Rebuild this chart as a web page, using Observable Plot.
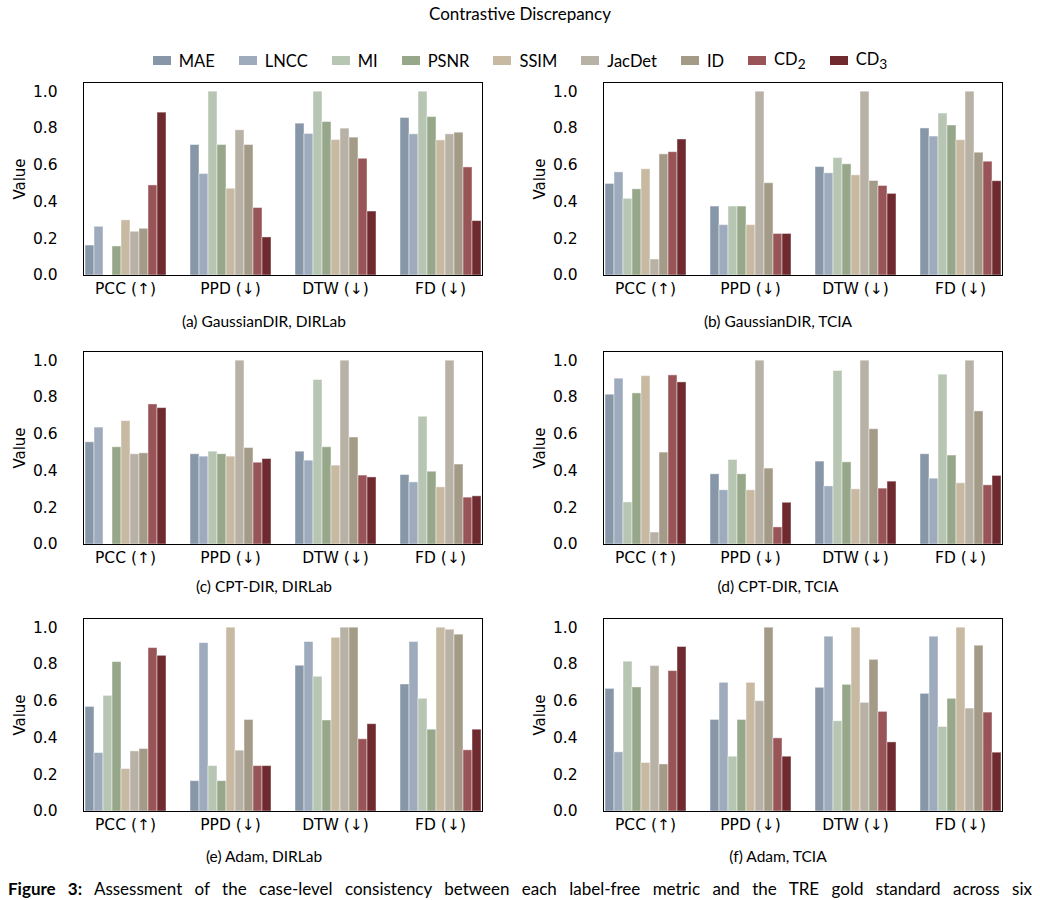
<!DOCTYPE html>
<html>
<head>
<meta charset="utf-8">
<script src="https://cdn.jsdelivr.net/npm/d3@7"></script>
<script src="https://cdn.jsdelivr.net/npm/@observablehq/plot@0.6"></script>
<style>
  html, body { margin: 0; padding: 0; background: #fff; }
  #page { position: relative; width: 1040px; height: 900px; overflow: hidden; background: #fff; font-family: Lato, "Open Sans", sans-serif; color: #000; }
  .abs { position: absolute; }
  #title { left: 0; width: 1040px; top: 3px; text-align: center; font-size: 17px; }
  #legend { left: 0; width: 1040px; top: 49px; display: flex; justify-content: center; align-items: center; font-size: 16.5px; }
  .item { display: flex; align-items: center; margin: 0 12px; }
  .sw { width: 18px; height: 9px; margin-right: 8px; }
  .sub { font-size: 15.5px; text-align: center; width: 400px; }
  .ylab { font-family: "DejaVu Sans", sans-serif; font-size: 15px; transform: translate(-50%, -50%) rotate(-90deg); white-space: nowrap; }
  #caption { left: 8px; width: 1024px; top: 879px; font-size: 17px; line-height: 20px; text-align: justify; text-align-last: justify; }
</style>
</head>
<body>
<div id="page"></div>
<script>
// ---------- data ----------
const methods = ["MAE", "LNCC", "MI", "PSNR", "SSIM", "JacDet", "ID", "CD2", "CD3"];
const methodLabels = ["MAE", "LNCC", "MI", "PSNR", "SSIM", "JacDet", "ID", "CD<sub>2</sub>", "CD<sub>3</sub>"];
const colors = ["#8797a8", "#9eabbd", "#b7c6b3", "#97a78a", "#c8b9a3", "#b8b1a5", "#a39b88", "#995457", "#6e2a2e"];
const categories = ["PCC (↑)", "PPD (↓)", "DTW (↓)", "FD (↓)"];
const yTicks = [0, 0.2, 0.4, 0.6, 0.8, 1.0];

// (a) GaussianDIR, DIRLab
const aPCC = [0.163, 0.265, 0.0, 0.158, 0.300, 0.238, 0.254, 0.490, 0.886];
const aPPD = [0.710, 0.552, 1.000, 0.710, 0.472, 0.790, 0.710, 0.367, 0.207];
const aDTW = [0.826, 0.770, 1.000, 0.835, 0.737, 0.799, 0.750, 0.635, 0.348];
const aFD  = [0.857, 0.768, 1.000, 0.862, 0.735, 0.768, 0.777, 0.588, 0.296];
// (b) GaussianDIR, TCIA
const bPCC = [0.498, 0.561, 0.417, 0.469, 0.578, 0.087, 0.659, 0.671, 0.740];
const bPPD = [0.375, 0.274, 0.375, 0.375, 0.274, 1.000, 0.502, 0.226, 0.226];
const bDTW = [0.590, 0.556, 0.639, 0.605, 0.545, 1.000, 0.514, 0.487, 0.444];
const bFD  = [0.800, 0.756, 0.881, 0.816, 0.736, 1.000, 0.668, 0.619, 0.513];
// (c) CPT-DIR, DIRLab
const cPCC = [0.556, 0.636, 0.0, 0.529, 0.671, 0.491, 0.496, 0.762, 0.742];
const cPPD = [0.491, 0.478, 0.505, 0.491, 0.478, 1.000, 0.525, 0.445, 0.465];
const cDTW = [0.505, 0.456, 0.895, 0.529, 0.429, 1.000, 0.582, 0.375, 0.365];
const cFD  = [0.378, 0.338, 0.695, 0.396, 0.311, 1.000, 0.435, 0.255, 0.262];
// (d) CPT-DIR, TCIA
const dPCC = [0.815, 0.902, 0.229, 0.822, 0.916, 0.065, 0.500, 0.920, 0.882];
const dPPD = [0.382, 0.295, 0.460, 0.382, 0.295, 1.000, 0.413, 0.093, 0.227];
const dDTW = [0.451, 0.316, 0.944, 0.447, 0.300, 1.000, 0.627, 0.304, 0.342];
const dFD  = [0.491, 0.358, 0.924, 0.484, 0.333, 1.000, 0.724, 0.322, 0.373];
// (e) Adam, DIRLab
const ePCC = [0.569, 0.318, 0.629, 0.813, 0.231, 0.327, 0.340, 0.889, 0.847];
const ePPD = [0.165, 0.916, 0.247, 0.165, 1.000, 0.331, 0.498, 0.247, 0.247];
const eDTW = [0.793, 0.922, 0.733, 0.495, 0.945, 1.000, 1.000, 0.393, 0.475];
const eFD  = [0.691, 0.922, 0.613, 0.445, 1.000, 0.989, 0.962, 0.333, 0.445];
// (f) Adam, TCIA
const fPCC = [0.667, 0.322, 0.815, 0.675, 0.264, 0.791, 0.256, 0.764, 0.895];
const fPPD = [0.498, 0.700, 0.298, 0.498, 0.700, 0.600, 1.000, 0.398, 0.298];
const fDTW = [0.673, 0.951, 0.491, 0.689, 1.000, 0.591, 0.825, 0.542, 0.376];
const fFD  = [0.640, 0.951, 0.460, 0.613, 1.000, 0.560, 0.902, 0.538, 0.320];

const panels = [
  {caption: "(a) GaussianDIR, DIRLab", values: [aPCC, aPPD, aDTW, aFD], col: 0, row: 0},
  {caption: "(b) GaussianDIR, TCIA",   values: [bPCC, bPPD, bDTW, bFD], col: 1, row: 0},
  {caption: "(c) CPT-DIR, DIRLab",     values: [cPCC, cPPD, cDTW, cFD], col: 0, row: 1},
  {caption: "(d) CPT-DIR, TCIA",       values: [dPCC, dPPD, dDTW, dFD], col: 1, row: 1},
  {caption: "(e) Adam, DIRLab",        values: [ePCC, ePPD, eDTW, eFD], col: 0, row: 2},
  {caption: "(f) Adam, TCIA",          values: [fPCC, fPPD, fDTW, fFD], col: 1, row: 2}
];

// ---------- layout ----------
const page = document.getElementById("page");
const colLeft = [0, 520];
const rowTop = [75, 344, 611];
const subY = [322, 587, 857];
const subX = [264, 778];
const PW = 520, MT = 7, MB = 30, ML = 63, MR = 18, PH = 193;
const PAD_IN = 0.2, PAD_OUT = 0.19;
const step = (PW - ML - MR) / (categories.length - PAD_IN + 2 * PAD_OUT);
const outerGap = PAD_OUT * step;
const FS = 15.5;

function add(html, cls, style) {
  const d = document.createElement("div");
  d.className = "abs " + (cls || "");
  d.innerHTML = html;
  Object.assign(d.style, style || {});
  page.appendChild(d);
  return d;
}

add("Contrastive Discrepancy", "", {}).id = "title";
const leg = add(methods.map((m, i) =>
  `<div class="item"><div class="sw" style="background:${colors[i]}"></div><span>${methodLabels[i]}</span></div>`).join(""), "", {});
leg.id = "legend";

function panelPlot(values) {
  const data = [];
  categories.forEach((c, ci) => methods.forEach((m, mi) => data.push({cat: c, method: m, value: values[ci][mi]})));
  return Plot.plot({
    width: PW, height: MT + PH + MB,
    marginTop: MT, marginBottom: MB, marginLeft: ML, marginRight: MR,
    style: {fontFamily: "DejaVu Sans", fontSize: FS + "px", background: "white", color: "black", overflow: "visible"},
    fx: {domain: categories, paddingInner: PAD_IN, paddingOuter: PAD_OUT, label: null},
    x: {domain: methods, padding: 0, axis: null},
    y: {domain: [0, 1.05], label: null},
    color: {domain: methods, range: colors},
    marks: [
      Plot.barY(data, {fx: "cat", x: "method", y: "value", fill: "method", stroke: "white", strokeWidth: 1, strokeOpacity: 0.45}),
      Plot.axisFx({anchor: "bottom", tickSize: 0, tickPadding: 7, label: null, fontSize: FS}),
      Plot.axisY({ticks: yTicks, tickFormat: d3.format(".1f"), tickSize: 0, tickPadding: 6, dx: -outerGap, label: null, fontSize: FS}),
      Plot.frame({facet: "super", stroke: "black", strokeWidth: 1})
    ]
  });
}

panels.forEach(p => {
  const svg = panelPlot(p.values);
  const wrap = add("", "", {left: colLeft[p.col] + "px", top: rowTop[p.row] + "px"});
  wrap.appendChild(svg);
  add(p.caption, "sub", {left: (subX[p.col] - 200) + "px", top: (subY[p.row] - 10) + "px"});
  add("Value", "ylab", {left: (colLeft[p.col] + ML - 43) + "px", top: (rowTop[p.row] + MT + PH / 2) + "px"});
});

const cap = add("<b>Figure 3:</b> Assessment of the case-level consistency between each label-free metric and the TRE gold standard across six", "", {});
cap.id = "caption";
</script>
</body>
</html>
